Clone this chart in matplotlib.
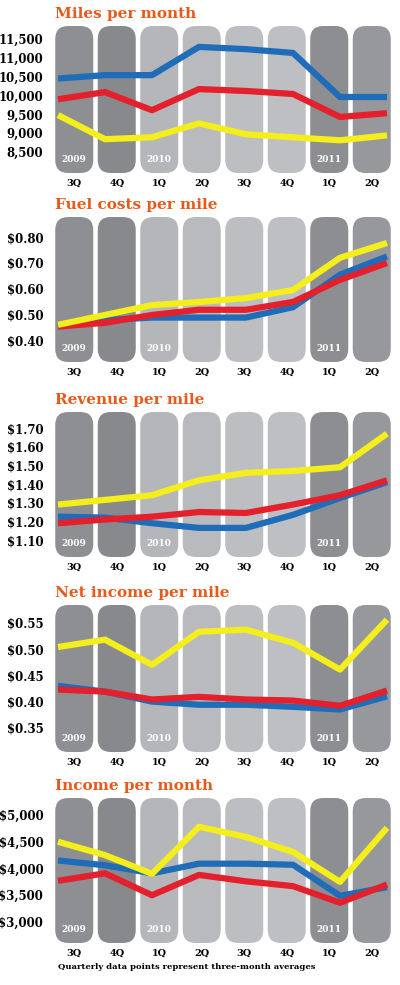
import matplotlib

matplotlib.use("Agg")

import matplotlib.pyplot as plt
import numpy as np
from matplotlib.patches import FancyBboxPatch

# --- data -------------------------------------------------------------
quarters = ["3Q", "4Q", "1Q", "2Q", "3Q", "4Q", "1Q", "2Q"]
year_marks = {0: "2009", 2: "2010", 6: "2011"}

titles = [
    "Miles per month",
    "Fuel costs per mile",
    "Revenue per mile",
    "Net income per mile",
    "Income per month",
]

miles_blue = [10450, 10540, 10540, 11290, 11230, 11130, 9960, 9960]
miles_red = [9900, 10090, 9610, 10170, 10120, 10040, 9430, 9530]
miles_yellow = [9480, 8840, 8890, 9260, 8970, 8890, 8810, 8940]

fuel_blue = [0.46, 0.48, 0.49, 0.49, 0.49, 0.53, 0.655, 0.725]
fuel_red = [0.455, 0.47, 0.50, 0.52, 0.52, 0.55, 0.635, 0.70]
fuel_yellow = [0.462, 0.50, 0.538, 0.55, 0.565, 0.596, 0.72, 0.777]

rev_blue = [1.225, 1.22, 1.19, 1.165, 1.165, 1.235, 1.325, 1.41]
rev_red = [1.19, 1.21, 1.225, 1.25, 1.245, 1.29, 1.34, 1.42]
rev_yellow = [1.29, 1.315, 1.34, 1.42, 1.46, 1.47, 1.49, 1.67]

net_blue = [0.43, 0.419, 0.40, 0.394, 0.394, 0.39, 0.385, 0.41]
net_red = [0.423, 0.419, 0.404, 0.409, 0.404, 0.402, 0.392, 0.421]
net_yellow = [0.504, 0.518, 0.47, 0.533, 0.537, 0.512, 0.461, 0.556]

inc_blue = [4150, 4060, 3910, 4090, 4090, 4070, 3490, 3650]
inc_red = [3770, 3910, 3500, 3880, 3760, 3670, 3360, 3700]
inc_yellow = [4500, 4250, 3900, 4780, 4590, 4310, 3750, 4760]

miles_ticks = [8500, 9000, 9500, 10000, 10500, 11000, 11500]
fuel_ticks = [0.40, 0.50, 0.60, 0.70, 0.80]
rev_ticks = [1.10, 1.20, 1.30, 1.40, 1.50, 1.60, 1.70]
net_ticks = [0.35, 0.40, 0.45, 0.50, 0.55]
inc_ticks = [3000, 3500, 4000, 4500, 5000]

footer = "Quarterly data points represent three-month averages"

# --- styling ----------------------------------------------------------
W, H = 400, 985
BLUE = "#1f6db8"
RED = "#e3202c"
YELLOW = "#f3ee1c"
ORANGE = "#e85a1c"
col_colors = ["#8e8f92", "#87898c", "#b5b6b9", "#b9babd",
              "#bdbec1", "#bebfc2", "#8c8e91", "#96989b"]
SERIF = "DejaVu Serif"

# panel pixel boxes: (top, bottom) of the columns, y-limits
panels = [
    ((26, 173), (7942, 11845), miles_ticks, lambda v: f"{v:,.0f}",
     (miles_blue, miles_red, miles_yellow)),
    ((217, 362), (0.319, 0.877), fuel_ticks, lambda v: f"${v:.2f}",
     (fuel_blue, fuel_red, fuel_yellow)),
    ((412, 557), (1.009, 1.786), rev_ticks, lambda v: f"${v:.2f}",
     (rev_blue, rev_red, rev_yellow)),
    ((605, 752), (0.304, 0.584), net_ticks, lambda v: f"${v:.2f}",
     (net_blue, net_red, net_yellow)),
    ((798, 943), (2607, 5318), inc_ticks, lambda v: f"${v:,.0f}",
     (inc_blue, inc_red, inc_yellow)),
]

AX_LEFT, AX_RIGHT = 53, 393
unit = (AX_RIGHT - AX_LEFT) / 8.0
col_w = 38

fig = plt.figure(figsize=(W / 100, H / 100), dpi=100)
bg = fig.add_axes([0, 0, 1, 1])
bg.set_xlim(0, W)
bg.set_ylim(H, 0)
bg.axis("off")

x_data = np.linspace((58 - AX_LEFT) / unit - 0.5, (387 - AX_LEFT) / unit - 0.5, 8)

for title, ((top, bottom), ylim, ticks, fmt, series) in zip(titles, panels):
    # rounded columns
    for i, c in enumerate(col_colors):
        cx = AX_LEFT + unit * (i + 0.5)
        bg.add_patch(FancyBboxPatch(
            (cx - col_w / 2, top), col_w, bottom - top,
            boxstyle="round,pad=0,rounding_size=13",
            facecolor=c, edgecolor="none"))

    bg.text(55, top - 12, title, color=ORANGE, fontsize=11, fontweight="bold",
            family=SERIF, va="center", ha="left")

    ax = fig.add_axes([AX_LEFT / W, 1 - bottom / H,
                       (AX_RIGHT - AX_LEFT) / W, (bottom - top) / H])
    ax.patch.set_alpha(0)
    ax.set_xlim(-0.5, 7.5)
    ax.set_ylim(*ylim)
    for s in ax.spines.values():
        s.set_visible(False)

    for vals, color in zip(series, (BLUE, RED, YELLOW)):
        ax.plot(x_data, vals, color=color, lw=4.5, solid_capstyle="butt",
                solid_joinstyle="round")

    ax.set_yticks(ticks)
    ax.set_yticklabels([fmt(t) for t in ticks], family=SERIF,
                       fontweight="bold", fontsize=8.5)
    ax.set_xticks(range(8))
    ax.set_xticklabels(quarters, family=SERIF, fontweight="bold", fontsize=7)
    ax.tick_params(length=0, axis="y", pad=7)
    ax.tick_params(length=0, axis="x", pad=4)

    for i, yr in year_marks.items():
        ax.text(i, 0.09, yr, transform=ax.get_xaxis_transform(),
                color="white", fontsize=6.5, fontweight="bold", family=SERIF,
                ha="center", va="center")

bg.text(58, 967, footer, fontsize=6, fontweight="bold", family=SERIF,
        ha="left", va="center")

fig.savefig("out.png", dpi=100)
plt.close(fig)
